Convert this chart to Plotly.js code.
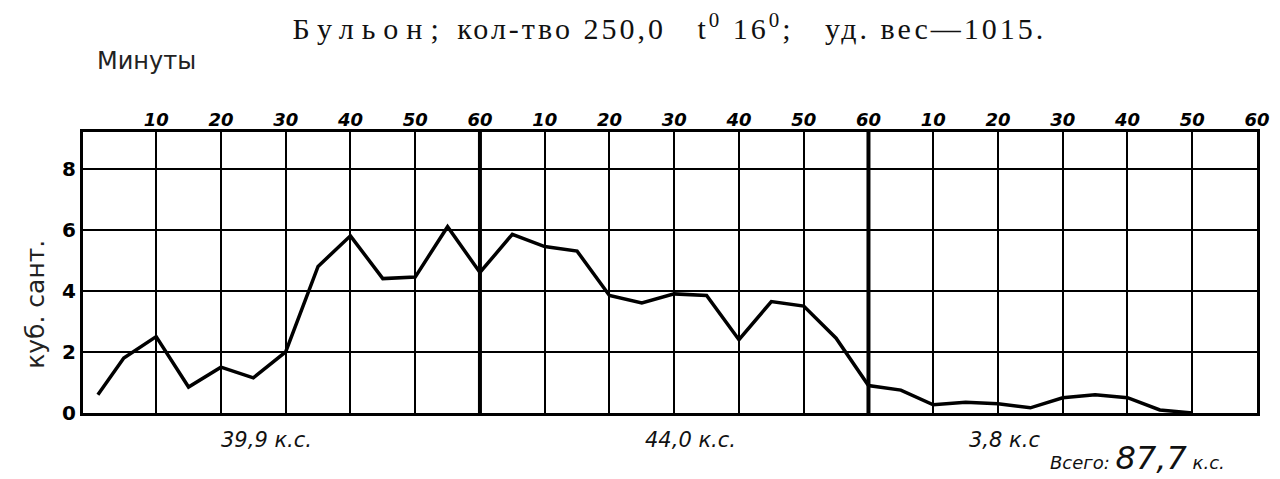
<!DOCTYPE html>
<html>
<head>
<meta charset="utf-8">
<script src="https://cdn.plot.ly/plotly-3.0.1.min.js"></script>
<style>html,body{margin:0;padding:0;background:#fff;}#chart{width:1280px;height:479px;}</style>
</head>
<body>
<div id="chart"></div>
<script>
// Minutes elapsed (continuous over three hours)
var minutes = [1, 5, 10, 15, 20, 25, 30, 35, 40, 45, 50, 55, 60, 65, 70, 75, 80, 85, 90, 95, 100, 105, 110, 115, 120, 125, 130, 135, 140, 145, 150, 155, 160, 165, 170];
// Volume, cubic centimetres
var volume = [0.6, 1.8, 2.5, 0.85, 1.5, 1.15, 2.0, 4.8, 5.8, 4.4, 4.45, 6.1, 4.6, 5.85, 5.45, 5.3, 3.85, 3.6, 3.9, 3.85, 2.4, 3.65, 3.5, 2.45, 0.9, 0.75, 0.27, 0.35, 0.3, 0.17, 0.5, 0.6, 0.5, 0.1, 0.0];
var topTickVals = [10, 20, 30, 40, 50, 60, 70, 80, 90, 100, 110, 120, 130, 140, 150, 160, 170, 180];
var topTickText = ["10", "20", "30", "40", "50", "60", "10", "20", "30", "40", "50", "60", "10", "20", "30", "40", "50", "60"];
var yTickVals = [0, 2, 4, 6, 8];
var yTickText = ["0", "2", "4", "6", "8"];
var hourMarks = [60, 120];
var hourTotals = ["39,9 к.с.", "44,0 к.с.", "3,8 к.с"];
var hourTotalPos = [27, 92.5, 141];

var trace = {
  x: minutes, y: volume, type: 'scatter', mode: 'lines',
  line: {color: '#000', width: 3.5},
  hoverinfo: 'x+y'
};

var shapes = hourMarks.map(function (m) {
  return {type: 'line', xref: 'x', yref: 'paper', x0: m, x1: m, y0: 0, y1: 1,
          line: {color: '#000', width: 4}};
});

var annotations = [];
hourTotals.forEach(function (t, i) {
  annotations.push({text: t, xref: 'x', yref: 'paper', x: hourTotalPos[i], y: -0.095,
    showarrow: false, xanchor: 'center', yanchor: 'middle',
    font: {family: 'DejaVu Sans', size: 21, style: 'italic', color: '#111'}});
});
annotations.push({text: 'Всего: <span style="font-size:32px">87,7</span> к.с.', xref: 'paper', yref: 'paper', x: 0.822, y: -0.16,
  showarrow: false, xanchor: 'left', yanchor: 'middle',
  font: {family: 'DejaVu Sans', size: 18, style: 'italic', color: '#111'}});
annotations.push({text: 'Минуты', xref: 'paper', yref: 'paper', x: 0.01, y: 1.253,
  showarrow: false, xanchor: 'left', yanchor: 'middle',
  font: {family: 'DejaVu Sans', size: 24, color: '#222'}});
annotations.push({text: 'куб. сант.', xref: 'paper', yref: 'paper', x: -0.04, y: 0.385,
  showarrow: false, xanchor: 'center', yanchor: 'middle', textangle: -90,
  font: {family: 'DejaVu Sans', size: 25, color: '#222'}});

var layout = {
  width: 1280, height: 479,
  margin: {l: 83, r: 23, t: 132, b: 66},
  paper_bgcolor: '#fff', plot_bgcolor: '#fff',
  showlegend: false,
  title: {
    text: '<span style="letter-spacing:3px"><span style="letter-spacing:8px">Бульон;</span> кол-тво 250,0   t<sup>0</sup> 16<sup>0</sup>;   уд. вес—1015.</span>',
    x: 0.523, xanchor: 'center', y: 0.94, yanchor: 'middle',
    font: {family: 'Liberation Serif', size: 30, color: '#111'}
  },
  xaxis: {
    side: 'top', range: [-1.3, 180],
    tickmode: 'array', tickvals: topTickVals, ticktext: topTickText,
    ticks: '', ticklen: 0, ticklabelstandoff: -4,
    tickfont: {family: 'DejaVu Sans', size: 18, style: 'italic', weight: 'bold', color: '#000'},
    showgrid: true, gridcolor: '#000', gridwidth: 2,
    showline: true, linecolor: '#000', linewidth: 3, mirror: true,
    zeroline: false, fixedrange: true
  },
  yaxis: {
    range: [0, 9.2],
    tickmode: 'array', tickvals: yTickVals, ticktext: yTickText,
    ticks: '', ticklen: 0,
    tickfont: {family: 'DejaVu Sans', size: 20, weight: 'bold', color: '#000'},
    showgrid: true, gridcolor: '#000', gridwidth: 2,
    showline: true, linecolor: '#000', linewidth: 3, mirror: true,
    zeroline: false, fixedrange: true
  },
  shapes: shapes,
  annotations: annotations
};

Plotly.newPlot('chart', [trace], layout, {displayModeBar: false, staticPlot: true});
</script>
</body>
</html>
